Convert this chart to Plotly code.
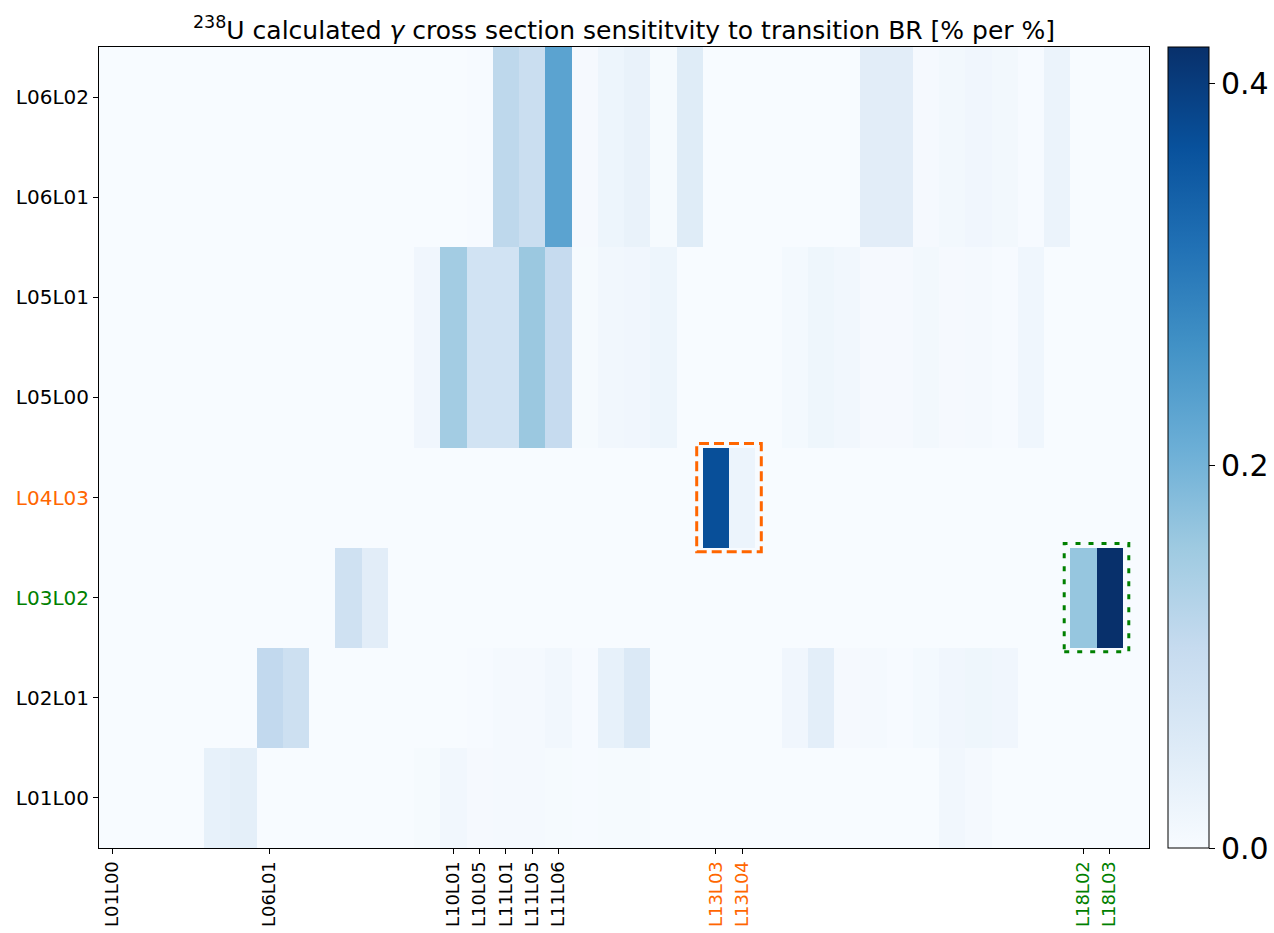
import plotly.graph_objects as go

# ---- data ----
row_labels = ["L01L00", "L02L01", "L03L02", "L04L03", "L05L00", "L05L01", "L06L01", "L06L02"]
n_cols = 40
x_tick_cols = [0, 6, 13, 14, 15, 16, 17, 23, 24, 37, 38]
x_tick_labels = ["L01L00", "L06L01", "L10L01", "L10L05", "L11L01", "L11L05", "L11L06",
                 "L13L03", "L13L04", "L18L02", "L18L03"]

def row(vals):
    r = [0.0] * n_cols
    for k, v in vals.items():
        r[k] = v
    return r

L01L00 = row({4: .033, 5: .040, 12: .004, 13: .013, 14: .005, 15: .006, 16: .006, 17: .004,
              18: .003, 19: .004, 20: .004, 32: .012, 33: .006})
L02L01 = row({6: .11, 7: .09, 14: .003, 15: .006, 16: .006, 17: .012, 18: .003, 19: .033, 20: .06,
              25: .001, 26: .015, 27: .042, 28: .005, 29: .007, 30: .003, 31: .008, 32: .015,
              33: .018, 34: .015})
L03L02 = row({9: .085, 10: .045, 37: .165, 38: .419})
L04L03 = row({23: .37, 24: .022})
L05L00 = row({12: .015, 13: .15, 14: .08, 15: .08, 16: .16, 17: .105, 18: .004, 19: .012, 20: .015,
              21: .02, 26: .008, 27: .018, 28: .013, 29: .005, 30: .005, 31: .01, 32: .005,
              33: .007, 34: .003, 35: .016})
L05L01 = row({12: .015, 13: .15, 14: .08, 15: .08, 16: .16, 17: .105, 18: .004, 19: .012, 20: .015,
              21: .02, 26: .008, 27: .018, 28: .013, 29: .005, 30: .005, 31: .01, 32: .005,
              33: .007, 34: .003, 35: .016})
L06L01 = row({14: .003, 15: .115, 16: .095, 17: .23, 18: .005, 19: .02, 20: .03, 21: .004, 22: .05,
              29: .045, 30: .045, 31: .005, 32: .01, 33: .015, 34: .01, 35: .003, 36: .025})
L06L02 = row({14: .003, 15: .115, 16: .095, 17: .23, 18: .005, 19: .02, 20: .03, 21: .004, 22: .05,
              29: .045, 30: .045, 31: .005, 32: .01, 33: .015, 34: .01, 35: .003, 36: .025})

z = [L01L00, L02L01, L03L02, L04L03, L05L00, L05L01, L06L01, L06L02]

ORANGE = "#ff6600"
GREEN = "#008000"
orange_labels = {"L13L03", "L13L04", "L04L03"}
green_labels = {"L18L02", "L18L03", "L03L02"}

def colored(lbl):
    if lbl in orange_labels:
        return f"<span style='color:{ORANGE}'>{lbl}</span>"
    if lbl in green_labels:
        return f"<span style='color:{GREEN}'>{lbl}</span>"
    return lbl

blues = [[0.0, "#f7fbff"], [0.125, "#deebf7"], [0.25, "#c6dbef"], [0.375, "#9ecae1"],
         [0.5, "#6baed6"], [0.625, "#4292c6"], [0.75, "#2171b5"], [0.875, "#08519c"],
         [1.0, "#08306b"]]

W, H = 1274, 933
PL, PR, PT, PB = 99, 1149, 47, 848   # plot area edges in page pixels
plot_w = PR - PL

fig = go.Figure(go.Heatmap(
    z=z, x=list(range(n_cols)), y=list(range(len(row_labels))),
    colorscale=blues, zmin=0, zmax=0.419,
    colorbar=dict(x=1 + 19 / plot_w, xanchor="left", y=0.5, yanchor="middle", len=1, lenmode="fraction",
                  thickness=41, outlinewidth=1, outlinecolor="black", xpad=0, ypad=0,
                  tickvals=[0, 0.2, 0.4], ticktext=["0.0", "0.2", "0.4"],
                  ticks="outside", ticklen=6, tickcolor="black",
                  tickfont=dict(size=30, color="black", family="DejaVu Sans")),
))

# highlight boxes
fig.add_shape(type="rect", x0=22.27, x1=24.73, y0=2.46, y1=3.54,
              line=dict(color=ORANGE, width=3, dash="10px,5px"), xref="x", yref="y")
fig.add_shape(type="rect", x0=36.27, x1=38.73, y0=1.46, y1=2.54,
              line=dict(color=GREEN, width=3, dash="5px,8px"), xref="x", yref="y")

fig.update_layout(
    width=W, height=H,
    margin=dict(l=PL, r=W - PR, t=PT, b=H - PB, autoexpand=False),
    paper_bgcolor="white", plot_bgcolor="white",
    font=dict(family="DejaVu Sans", color="black"),
    title=dict(text="<sup>238</sup>U calculated <i>γ</i> cross section sensititvity to transition BR [% per %]",
               x=(PL + PR) / 2 / W, xanchor="center", y=1 - 30 / H, yanchor="middle",
               font=dict(size=25, color="black")),
    xaxis=dict(range=[-0.5, n_cols - 0.5], tickvals=x_tick_cols,
               ticktext=[colored(t) for t in x_tick_labels], tickangle=-90,
               ticks="outside", ticklen=5, tickcolor="black",
               showline=True, linecolor="black", linewidth=1, mirror=True,
               showgrid=False, zeroline=False, tickfont=dict(size=18)),
    yaxis=dict(range=[-0.5, len(row_labels) - 0.5], tickvals=list(range(len(row_labels))),
               ticktext=[colored(t) for t in row_labels],
               ticks="outside", ticklen=5, tickcolor="black",
               showline=True, linecolor="black", linewidth=1, mirror=True,
               showgrid=False, zeroline=False, tickfont=dict(size=20)),
)

fig.write_html("out.html", config={"displayModeBar": False},
               post_script="document.body.style.margin='0px';")
